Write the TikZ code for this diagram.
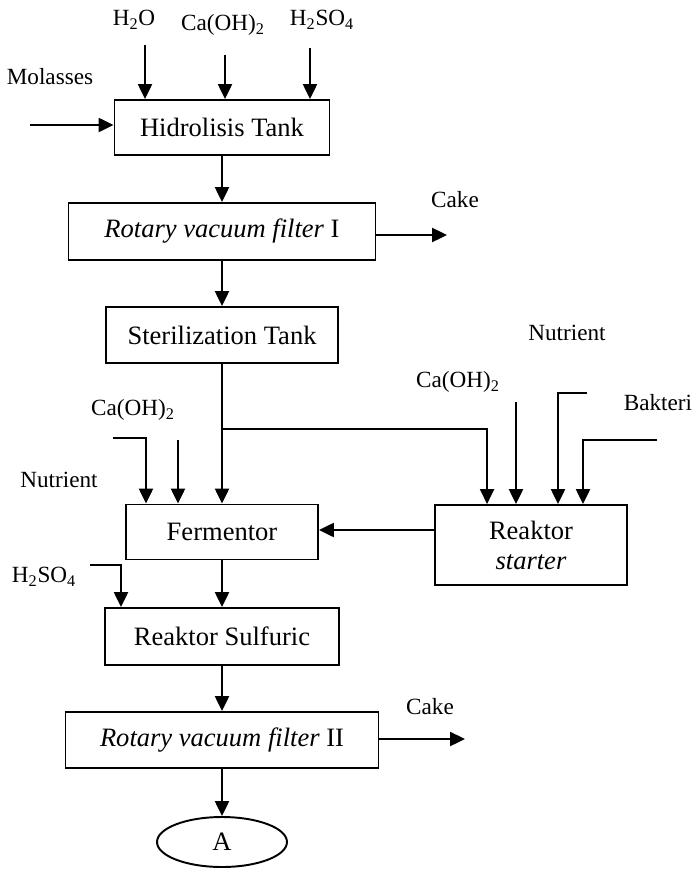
\documentclass[tikz,border=0pt]{standalone}
\usepackage{fontspec}
\setmainfont{Liberation Serif}
\usetikzlibrary{arrows.meta, positioning, calc, shapes.geometric}

\begin{document}
\begin{tikzpicture}[x=0.02cm, y=-0.02cm, >={Triangle[length=8.5pt, width=8pt]}, line width=1.1pt,
    unitbox/.style={draw, line width=1.1pt, inner sep=0pt, align=center, font=\fontsize{15.1}{17}\selectfont},
    streamlbl/.style={inner sep=0pt, font=\fontsize{13.2}{15}\selectfont}]
    \useasboundingbox (0,0) rectangle (694,869);

    % Main column
    \node[unitbox, minimum width=4.3cm, minimum height=1.1cm] (hid) at (222,127.5) {Hidrolisis Tank};
    \node[unitbox, minimum width=6.14cm, minimum height=1.14cm] (rvf1) at (222,231.5) {\textit{Rotary vacuum filter} I};
    \node[unitbox, minimum width=4.64cm, minimum height=1.12cm] (ster) at (222,335) {Sterilization Tank};
    \node[unitbox, minimum width=3.84cm, minimum height=1.1cm] (ferm) at (222,532) {Fermentor};
    \node[unitbox, minimum width=3.84cm, minimum height=1.6cm] (rs) at (531,545) {Reaktor\\[0pt]\textit{starter}};
    \node[unitbox, minimum width=4.68cm, minimum height=1.14cm] (sulf) at (222,636.5) {Reaktor Sulfuric};
    \node[unitbox, minimum width=6.26cm, minimum height=1.12cm] (rvf2) at (222,740) {\textit{Rotary vacuum filter} II};
    \node[unitbox, ellipse, minimum width=2.6cm, minimum height=1.0cm] (prodA) at (222,842) {A};

    % Stream labels
    \node[streamlbl] (lmol) at (50,77) {Molasses};
    \node[streamlbl] (lh2o) at (134,20) {H\textsubscript{2}O};
    \node[streamlbl] (lcaoh1) at (223,25) {Ca(OH)\textsubscript{2}};
    \node[streamlbl] (lacid1) at (322,20) {H\textsubscript{2}SO\textsubscript{4}};
    \node[streamlbl] (lcake1) at (455,200) {Cake};
    \node[streamlbl] (lnut2) at (567,333) {Nutrient};
    \node[streamlbl] (lcaoh3) at (458,382) {Ca(OH)\textsubscript{2}};
    \node[streamlbl] (lbak) at (658,403) {Bakteri};
    \node[streamlbl] (lcaoh2) at (133,410) {Ca(OH)\textsubscript{2}};
    \node[streamlbl] (lnut1) at (59,480) {Nutrient};
    \node[streamlbl] (lacid2) at (44,577) {H\textsubscript{2}SO\textsubscript{4}};
    \node[streamlbl] (lcake2) at (430,707) {Cake};

    % Free ends
    \coordinate (mol) at (30,125);
    \coordinate (h2o) at (145,45);
    \coordinate (caoh1) at (225,55);
    \coordinate (acid1) at (310,48);
    \coordinate (cake1) at (447,235);
    \coordinate (split) at (222,429);
    \coordinate (caoh2) at (113,438);
    \coordinate (caoh2d) at (146,438);
    \coordinate (nut1) at (178,440);
    \coordinate (caoh3) at (516,402);
    \coordinate (nut2) at (587,393);
    \coordinate (nut2d) at (558,393);
    \coordinate (bak) at (657,440);
    \coordinate (bakd) at (583,440);
    \coordinate (recyc) at (0,530);
    \coordinate (acid2) at (90,565);
    \coordinate (acid2d) at (121,565);
    \coordinate (cake2) at (465,739);

    % Hidrolisis feeds
    \draw[->] (mol) -- (hid.west |- mol);
    \draw[->] (h2o) -- (h2o |- hid.north);
    \draw[->] (caoh1) -- (caoh1 |- hid.north);
    \draw[->] (acid1) -- (acid1 |- hid.north);

    % Main line
    \draw[->] (hid) -- (rvf1);
    \draw[->] (rvf1.east |- cake1) -- (cake1);
    \draw[->] (rvf1) -- (ster);
    \draw[->] (ster) -- (ferm);
    \draw[->] (split) -| ($(rs.north west)+(53,0)$);

    % Fermentor feeds
    \draw[->] (caoh2) -- (caoh2d) -- (caoh2d |- ferm.north);
    \draw[->] (nut1) -- (nut1 |- ferm.north);

    % Reaktor starter feeds
    \draw[->] (caoh3) -- (caoh3 |- rs.north);
    \draw[->] (nut2) -- (nut2d) -- (nut2d |- rs.north);
    \draw[->] (bak) -- (bakd) -- (bakd |- rs.north);
    \draw[->] (rs.west |- recyc) -- (ferm.east |- recyc);

    % Acid step and filter II
    \draw[->] (acid2) -- (acid2d) -- (acid2d |- sulf.north);
    \draw[->] (ferm) -- (sulf);
    \draw[->] (sulf) -- (rvf2);
    \draw[->] (rvf2.east |- cake2) -- (cake2);
    \draw[->] (rvf2) -- (prodA);
\end{tikzpicture}
\end{document}
